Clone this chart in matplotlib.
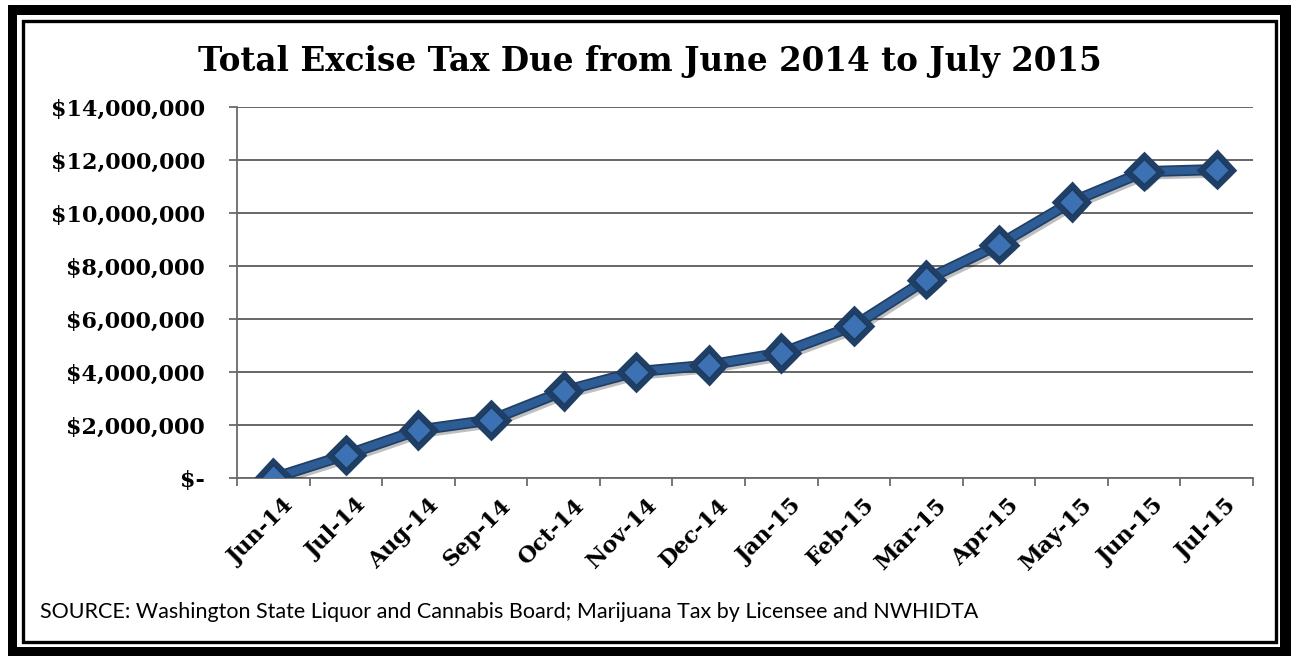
import matplotlib.pyplot as plt
import matplotlib.patheffects as pe
import matplotlib.transforms as mtransforms
from matplotlib.patches import Rectangle
from matplotlib.ticker import FuncFormatter, FixedLocator

# Monthly excise tax due (cumulative), June 2014 - July 2015
months = ["Jun-14", "Jul-14", "Aug-14", "Sep-14", "Oct-14", "Nov-14", "Dec-14",
          "Jan-15", "Feb-15", "Mar-15", "Apr-15", "May-15", "Jun-15", "Jul-15"]
tax_due = [0, 870000, 1810000, 2190000, 3280000, 4010000, 4260000,
           4720000, 5740000, 7490000, 8810000, 10420000, 11560000, 11640000]
y_ticks = [0, 2000000, 4000000, 6000000, 8000000, 10000000, 12000000, 14000000]

W, H = 1291, 656
fig = plt.figure(figsize=(W / 100, H / 100), dpi=100)
fig.patch.set_facecolor("white")


def px_rect(x0, y0, x1, y1, **kw):
    # rectangle given in pixel coords (origin top-left)
    return Rectangle((x0 / W, 1 - y1 / H), (x1 - x0) / W, (y1 - y0) / H,
                     transform=fig.transFigure, zorder=-5, **kw)


# double border frame
fig.patches.append(px_rect(8, 5, W + 5, H + 5, facecolor="black", edgecolor="none"))
fig.patches.append(px_rect(17, 15, 1280, 647, facecolor="white", edgecolor="none"))
fig.patches.append(px_rect(22.5, 20.5, 1276, 641.5, facecolor="none",
                           edgecolor="black", linewidth=2.4))

ax = fig.add_axes([237 / W, 1 - 478 / H, (1253 - 237) / W, (478 - 107) / H])
ax.set_facecolor("none")

x = list(range(len(months)))
ax.plot(x, tax_due, color="#2e5c94", linewidth=5.5, solid_joinstyle="round",
        marker="D", markersize=13, markerfacecolor="#3c71b3",
        markeredgecolor="#1d3a5f", markeredgewidth=1.0, zorder=3,
        path_effects=[pe.SimpleLineShadow(offset=(2, -3), alpha=0.25),
                      pe.Stroke(linewidth=8, foreground="#1f3f66"), pe.Normal()])

ax.set_xlim(-0.5, len(months) - 0.5)
ax.set_ylim(0, 14000000)
ax.set_yticks(y_ticks)
ax.yaxis.set_major_formatter(FuncFormatter(
    lambda v, p: "$-" if v == 0 else "${:,.0f}".format(v)))
ax.grid(axis="y", color="#5a5a5a", linewidth=1.3)
ax.set_axisbelow(True)

ax.set_xticks(x)
ax.set_xticklabels(months, rotation=45, ha="right", rotation_mode="anchor")
ax.xaxis.set_minor_locator(FixedLocator([i - 0.5 for i in range(len(months) + 1)]))
ax.tick_params(axis="x", which="major", length=0, pad=12)
ax.tick_params(axis="x", which="minor", length=6, width=1.3, color="#6a6a6a")
ax.tick_params(axis="y", length=6, width=1.3, color="#6a6a6a", pad=17)

# nudge the rotated month labels a bit to the right
shift = mtransforms.ScaledTranslation(9 / 100, 0, fig.dpi_scale_trans)
for lab in ax.get_xticklabels():
    lab.set_transform(lab.get_transform() + shift)

for lab in ax.get_xticklabels() + ax.get_yticklabels():
    lab.set_fontfamily("DejaVu Serif")
    lab.set_fontweight("bold")
    lab.set_fontsize(16)

for s in ["top", "right"]:
    ax.spines[s].set_visible(False)
for s in ["left", "bottom"]:
    ax.spines[s].set_color("#6a6a6a")
    ax.spines[s].set_linewidth(1.3)

fig.text(650 / W, 1 - 62 / H, "Total Excise Tax Due from June 2014 to July 2015",
         ha="center", va="center", fontsize=23.5, fontweight="bold",
         fontfamily="DejaVu Serif")
fig.text(40 / W, 1 - 612 / H,
         "SOURCE: Washington State Liquor and Cannabis Board; Marijuana Tax by Licensee and NWHIDTA",
         ha="left", va="center", fontsize=15.5, fontfamily="Lato")

fig.savefig("out.png", dpi=100)
